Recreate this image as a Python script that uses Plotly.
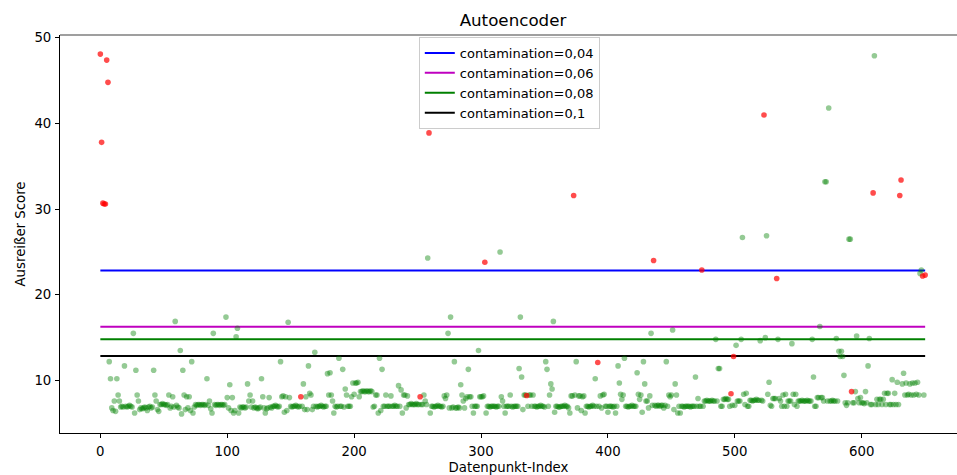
import plotly.graph_objects as go

# Reconstruction-error scores per data point (index 0..650), in blocks of 100
scores_000 = [
    48.1, 37.8, 30.7, 30.6, 30.6, 47.4, 44.8, 12.2, 10.2, 6.8,
    6.5, 7.6, 6.4, 10.2, 8.3, 7.6, 6.9, 7.0, 6.9, 11.7,
    7.0, 6.9, 7.0, 7.1, 7.0, 6.9, 15.5, 6.2, 11.2, 8.3,
    7.6, 6.6, 6.8, 6.7, 6.8, 6.9, 6.8, 6.5, 6.9, 7.0,
    6.8, 6.9, 11.2, 8.3, 7.6, 6.6, 6.4, 7.2, 7.2, 7.3,
    7.2, 7.2, 7.1, 7.2, 8.3, 6.8, 7.0, 8.1, 6.9, 16.9,
    7.1, 6.9, 6.8, 13.5, 6.1, 11.2, 8.3, 6.6, 8.1, 6.8,
    8.1, 6.5, 12.2, 6.2, 6.9, 7.2, 7.1, 7.2, 7.2, 7.1,
    7.2, 7.2, 7.1, 7.2, 10.2, 7.1, 7.6, 6.7, 6.2, 15.5,
    7.2, 7.1, 7.2, 7.2, 7.1, 7.2, 7.2, 7.1, 7.2, 17.4,
]
scores_100 = [
    8.0, 6.8, 9.5, 6.5, 8.0, 6.2, 6.5, 15.1, 16.1, 6.2,
    6.9, 6.8, 6.9, 6.9, 6.8, 6.9, 9.6, 7.6, 8.3, 6.9,
    7.6, 6.8, 6.9, 6.8, 6.7, 6.8, 6.9, 10.2, 8.1, 6.8,
    6.2, 6.7, 6.8, 8.0, 6.9, 6.8, 7.0, 7.0, 7.1, 7.0,
    6.9, 7.0, 12.2, 8.1, 8.2, 6.3, 8.1, 6.5, 16.8, 8.0,
    7.0, 6.9, 7.0, 7.0, 7.1, 7.0, 6.9, 7.0, 8.1, 7.0,
    9.6, 6.6, 8.1, 6.6, 11.7, 8.5, 8.3, 6.6, 7.0, 13.3,
    7.0, 6.9, 7.0, 7.0, 7.1, 7.0, 6.9, 7.0, 7.0, 10.8,
    8.3, 10.9, 8.3, 7.6, 6.2, 7.0, 6.9, 7.0, 12.6, 7.0,
    7.0, 11.3, 6.9, 9.0, 8.3, 7.0, 7.0, 7.0, 8.1, 9.7,
]
scores_200 = [
    8.4, 9.7, 9.7, 9.8, 8.1, 8.7, 8.7, 8.8, 8.7, 8.7,
    8.8, 8.7, 8.7, 8.8, 8.7, 6.9, 7.0, 8.3, 8.3, 6.2,
    12.6, 6.5, 11.3, 7.0, 7.0, 8.3, 7.0, 7.0, 7.0, 8.2,
    7.0, 7.0, 7.1, 7.0, 7.0, 9.4, 7.0, 8.9, 6.2, 8.3,
    8.3, 6.8, 8.2, 7.2, 7.2, 7.3, 7.2, 7.2, 7.2, 7.3,
    7.2, 7.2, 8.1, 7.2, 7.2, 8.3, 7.6, 7.2, 24.3, 38.9,
    6.2, 7.0, 7.0, 6.9, 7.0, 7.0, 7.1, 7.0, 7.0, 6.9,
    7.0, 8.2, 7.9, 8.3, 15.5, 6.8, 17.4, 6.8, 6.9, 12.2,
    6.8, 6.8, 6.9, 6.8, 9.5, 8.3, 7.6, 6.8, 7.9, 8.1,
    11.3, 8.1, 8.1, 7.0, 6.2, 7.0, 7.0, 7.0, 13.5, 8.1,
]
scores_300 = [
    8.1, 8.1, 8.2, 23.8, 6.2, 7.0, 7.0, 6.9, 7.0, 7.0,
    7.0, 7.0, 6.9, 7.0, 7.0, 25.0, 8.1, 7.6, 7.0, 6.2,
    7.0, 7.0, 7.0, 8.3, 7.0, 6.9, 7.0, 7.0, 7.0, 7.0,
    11.4, 17.4, 10.4, 6.6, 8.3, 8.3, 8.25, 7.0, 8.3, 8.3,
    7.0, 8.3, 7.0, 7.0, 6.9, 7.0, 7.0, 7.1, 7.0, 7.0,
    6.9, 12.2, 11.3, 7.0, 8.3, 9.6, 9.0, 16.9, 6.3, 7.0,
    7.0, 6.9, 6.9, 7.0, 7.0, 7.0, 7.1, 7.0, 7.0, 6.8,
    6.2, 8.2, 8.2, 31.6, 8.3, 12.2, 6.8, 8.2, 8.2, 6.5,
    8.1, 8.2, 6.2, 7.0, 7.0, 6.9, 7.0, 7.0, 7.1, 7.0,
    10.2, 7.0, 12.1, 7.0, 8.2, 6.8, 8.3, 8.4, 7.0, 7.0,
]
scores_400 = [
    6.3, 7.0, 7.0, 7.0, 6.9, 7.0, 6.2, 7.0, 11.7, 9.7,
    8.4, 7.8, 8.3, 12.6, 7.0, 7.0, 6.9, 7.0, 7.0, 7.1,
    7.0, 7.0, 7.0, 10.9, 8.4, 7.8, 8.3, 6.3, 12.2, 9.6,
    7.6, 7.6, 6.8, 8.2, 15.5, 7.1, 24.0, 7.1, 7.0, 7.1,
    7.1, 7.0, 7.1, 7.1, 6.8, 7.1, 12.2, 7.0, 8.3, 8.1,
    8.3, 15.9, 6.6, 9.6, 8.3, 6.2, 7.0, 6.2, 7.0, 7.0,
    6.9, 7.0, 7.0, 7.0, 7.0, 6.9, 7.0, 7.0, 7.0, 10.4,
    7.0, 7.9, 7.0, 7.0, 22.9, 7.0, 7.6, 7.6, 7.7, 7.6,
    7.6, 7.6, 7.7, 7.6, 7.6, 14.8, 7.6, 11.4, 11.4, 7.0,
    7.0, 7.8, 7.8, 7.9, 7.8, 7.8, 7.0, 8.45, 7.1, 12.8,
]
scores_500 = [
    7.1, 14.1, 7.6, 7.6, 7.6, 14.8, 26.7, 8.4, 7.2, 8.5,
    7.0, 7.0, 7.7, 7.7, 7.6, 7.7, 7.7, 7.8, 7.7, 7.7,
    14.65, 7.7, 7.6, 41.0, 15.0, 26.9, 8.4, 9.8, 7.1, 7.0,
    7.9, 7.9, 7.9, 21.9, 14.8, 7.9, 7.6, 7.0, 8.3, 7.0,
    8.4, 7.0, 7.6, 7.6, 7.6, 14.3, 8.4, 7.2, 8.4, 7.0,
    7.6, 7.6, 7.6, 7.7, 7.6, 7.6, 7.6, 7.7, 7.6, 7.6,
    7.6, 14.8, 10.4, 7.0, 7.0, 8.0, 8.0, 16.3, 8.0, 8.0,
    7.6, 33.2, 33.2, 7.6, 41.8, 7.6, 7.6, 7.7, 7.6, 7.6,
    14.9, 7.6, 13.4, 12.8, 13.4, 12.8, 10.6, 7.4, 7.1, 7.4,
    26.5, 26.5, 8.7, 7.4, 7.4, 8.7, 15.2, 7.9, 7.4, 8.0,
]
scores_600 = [
    7.4, 7.4, 7.3, 8.7, 7.4, 11.7, 14.9, 7.2, 7.2, 31.9,
    47.9, 7.2, 7.8, 7.2, 7.8, 7.8, 7.2, 7.8, 8.5, 7.2,
    8.5, 8.5, 7.2, 7.2, 10.1, 7.2, 8.5, 7.2, 9.8, 7.2,
    31.6, 33.4, 9.6, 10.85, 8.3, 9.7, 8.3, 8.4, 9.6, 8.3,
    9.7, 8.3, 9.7, 8.4, 9.8, 8.3, 22.5, 22.9, 22.2, 8.3, 22.3,
]

# Indices of the labelled anomalies (drawn in red)
anomaly_idx = [0, 1, 2, 3, 4, 5, 6, 158, 252, 259, 303, 336, 373, 392, 436,
               474, 497, 499, 523, 533, 592, 609, 630, 631, 648, 650]

# Score thresholds for each contamination level
contamination_labels = ["contamination=0,04", "contamination=0,06",
                        "contamination=0,08", "contamination=0,1"]
thresholds = [22.83, 16.28, 14.80, 12.86]
line_colors = ["#0000ff", "#bf00bf", "#008000", "#000000"]

scores = scores_000 + scores_100 + scores_200 + scores_300 + scores_400 + scores_500 + scores_600
idx = list(range(len(scores)))
anomaly_set = set(anomaly_idx)

normal_x = [i for i in idx if i not in anomaly_set]
normal_y = [scores[i] for i in normal_x]
anom_x = [i for i in idx if i in anomaly_set]
anom_y = [scores[i] for i in anom_x]

FONT = "DejaVu Sans"
fig = go.Figure()

for lab, thr, col in zip(contamination_labels, thresholds, line_colors):
    fig.add_trace(go.Scatter(
        x=[idx[0], idx[-1]], y=[thr, thr], mode="lines", name=lab,
        line=dict(color=col, width=2), hoverinfo="skip",
    ))

fig.add_trace(go.Scatter(
    x=normal_x, y=normal_y, mode="markers", showlegend=False,
    marker=dict(color="rgba(0,128,0,0.42)", size=5.6, line=dict(width=0)),
))
fig.add_trace(go.Scatter(
    x=anom_x, y=anom_y, mode="markers", showlegend=False,
    marker=dict(color="rgba(255,0,0,0.7)", size=5.6, line=dict(width=0)),
))

axis_common = dict(
    showgrid=False, zeroline=False, showline=True, linecolor="black", linewidth=1,
    ticks="outside", ticklen=4, tickwidth=1, tickcolor="black",
    tickfont=dict(family=FONT, size=13.3, color="black"),
    automargin=False,
)

fig.update_layout(
    width=957, height=475, autosize=False,
    margin=dict(l=60, r=0, t=35, b=42),
    paper_bgcolor="white", plot_bgcolor="white",
    font=dict(family=FONT, color="black"),
    title=dict(text="Autoencoder", x=0.505, xref="paper", xanchor="center",
               y=1 - 20 / 475, yref="container", yanchor="middle",
               font=dict(family=FONT, size=16.7, color="black")),
    xaxis=dict(range=[-31.8, 675.1], tickvals=[0, 100, 200, 300, 400, 500, 600],
               title=dict(text="Datenpunkt-Index", standoff=8,
                          font=dict(family=FONT, size=13.3, color="black")),
               ticklabelstandoff=2, **axis_common),
    yaxis=dict(range=[3.87, 50.33], tickvals=[10, 20, 30, 40, 50],
               title=dict(text="Ausreißer Score", standoff=5,
                          font=dict(family=FONT, size=13.3, color="black")),
               ticklabelstandoff=1, **axis_common),
    legend=dict(x=0.4, y=0.995, xanchor="left", yanchor="top",
                bgcolor="rgba(255,255,255,0.8)", bordercolor="#cccccc", borderwidth=1,
                font=dict(family=FONT, size=13, color="black")),
    shapes=[dict(type="line", xref="paper", yref="paper", x0=0, x1=1, y0=1, y1=1,
                 line=dict(color="#7f7f7f", width=1.5), layer="above")],
)

fig.write_html("out.html")
